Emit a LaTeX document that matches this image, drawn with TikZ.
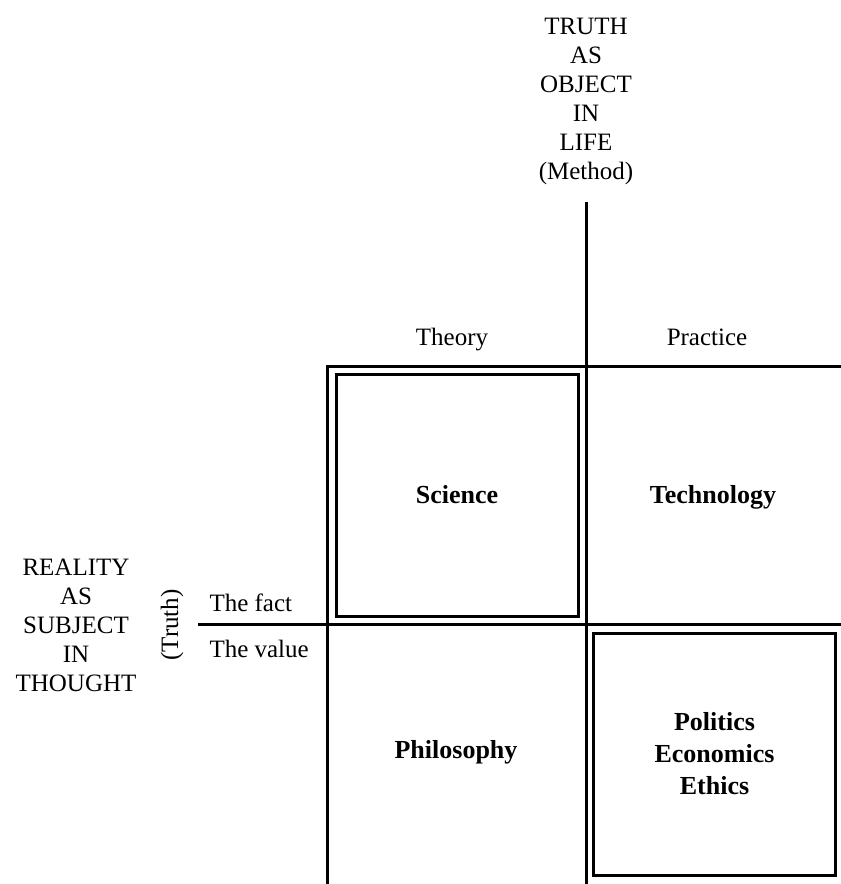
\documentclass[tikz,border=0pt]{standalone}
\usepackage{fontspec}
\setmainfont{Liberation Serif}
\usetikzlibrary{positioning}

\begin{document}
\begin{tikzpicture}[x=0.5pt, y=-0.5pt, line width=1.5pt,
		axis/.style={align=center, inner sep=0pt, font=\fontsize{12.5}{14.5}\selectfont},
		side/.style={inner sep=0pt, font=\fontsize{12.5}{15}\selectfont},
		field/.style={align=center, font=\bfseries\fontsize{13}{16}\selectfont},
		frame/.style={draw, inner sep=0pt, minimum width=121pt, minimum height=121pt}]
		\useasboundingbox (0,0) rectangle (841,884);

		% quadrant lines
		\coordinate (vtop) at (586,202);
		\coordinate (vbot) at (586,884);
		\coordinate (corner) at (327,366);
		\coordinate (lbot) at (327,884);
		\coordinate (tright) at (841,366);
		\coordinate (mleft) at (198,624);
		\coordinate (mright) at (841,624);
		\draw (vtop) -- (vbot);
		\draw (lbot) -- (corner) -- (tright);
		\draw (mleft) -- (mright);

		% axis titles
		\draw (586,17) node[axis, anchor=north] (obj) {TRUTH\\AS\\OBJECT\\IN\\LIFE\\(Method)}
		(76,557) node[axis, anchor=north] (subj) {REALITY\\AS\\SUBJECT\\IN\\THOUGHT}
		(172,625) node[side, rotate=90] (truth) {(Truth)};

		% column and row labels
		\draw (452,345) node[side, anchor=base] (theory) {Theory}
		(707,345) node[side, anchor=base] (practice) {Practice}
		(208,611) node[side, anchor=base west] (fact) {The fact}
		(208,657) node[side, anchor=base west] (value) {The value};

		% the four fields
		\draw (457,495) node[field, frame] (sci) {Science}
		(713,503) node[field, anchor=base] (tech) {Technology}
		(456,758) node[field, anchor=base] (phil) {Philosophy}
		(714.5,754) node[field, frame] (pol) {Politics\\Economics\\Ethics};
	\end{tikzpicture}
\end{document}
